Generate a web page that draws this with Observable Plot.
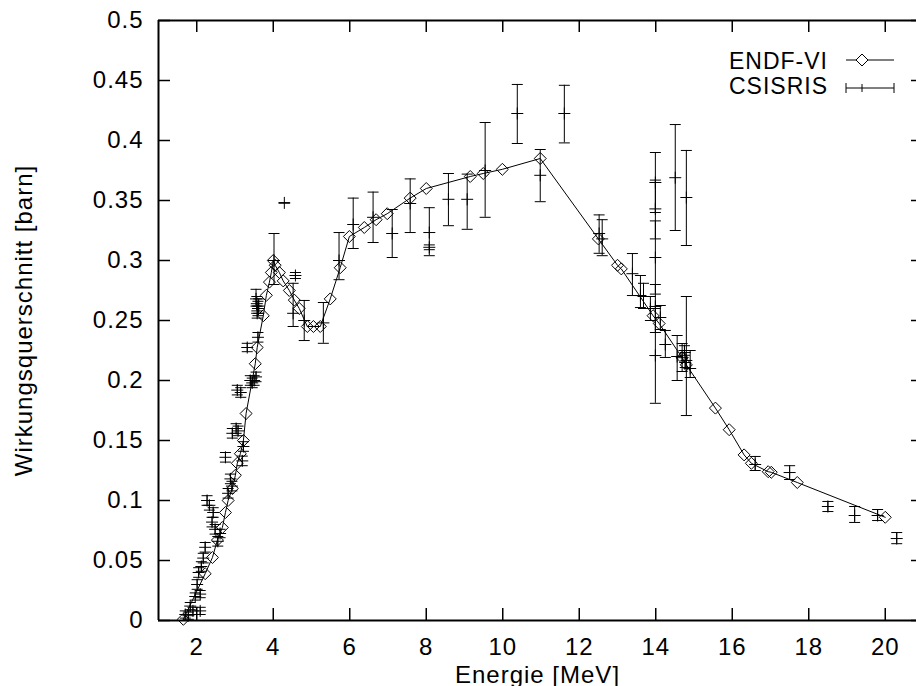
<!DOCTYPE html>
<html>
<head>
<meta charset="utf-8">
<script src="https://cdn.jsdelivr.net/npm/d3@7"></script>
<script src="https://cdn.jsdelivr.net/npm/@observablehq/plot@0.6"></script>
<style>
  html, body { margin: 0; padding: 0; background: white; }
  #chart svg text { letter-spacing: 1px; }
</style>
</head>
<body>
<div id="chart"></div>
<script>
// ENDF-VI evaluated cross section (energy MeV, barn)
const endfE = [1.65, 2.22, 2.41, 2.54, 2.67, 2.75, 2.82, 2.93, 3.01, 3.06, 3.14, 3.22, 3.29, 3.53, 3.58, 3.74, 3.82, 3.90, 3.95, 4.00, 4.05, 4.16, 4.26, 4.42, 4.55, 4.68, 4.89, 5.05, 5.23, 5.49, 5.75, 5.99, 6.38, 6.69, 6.98, 7.58, 8.00, 9.15, 9.49, 9.99, 10.98, 12.50, 13.00, 13.10, 13.93, 14.09, 14.69, 14.80, 15.56, 15.92, 16.31, 16.50, 16.94, 17.02, 17.70, 20.00];
const endfV = [0.001, 0.039, 0.0525, 0.067, 0.0775, 0.090, 0.100, 0.110, 0.121, 0.131, 0.139, 0.150, 0.1725, 0.214, 0.2275, 0.254, 0.271, 0.282, 0.290, 0.300, 0.296, 0.290, 0.283, 0.275, 0.267, 0.260, 0.245, 0.245, 0.245, 0.268, 0.294, 0.320, 0.3275, 0.334, 0.339, 0.352, 0.360, 0.370, 0.3725, 0.376, 0.385, 0.318, 0.296, 0.293, 0.254, 0.2475, 0.219, 0.213, 0.177, 0.159, 0.138, 0.131, 0.124, 0.1235, 0.115, 0.086];

// CSISRIS measurements: energy, value, lower and upper error limits
const csE  = [1.70, 1.78, 1.83, 1.90, 1.96, 2.01, 2.09, 2.09, 2.05, 2.12, 2.17, 2.22, 2.27, 2.33, 2.43, 2.40, 2.48, 2.61, 2.55, 2.75, 2.82, 2.88, 2.92, 2.93, 3.03, 3.08, 3.19, 3.22, 3.06, 3.15, 3.40, 3.45, 3.50, 3.55, 3.32, 3.60, 3.55, 3.57, 3.60, 3.58, 3.62, 4.02, 4.29, 4.58, 4.52, 4.81, 5.31, 5.72, 6.09, 6.61, 7.11, 7.58, 8.08, 8.08, 8.58, 9.07, 9.54, 10.38, 10.98, 11.61, 12.52, 12.60, 13.39, 13.60, 13.68, 13.86, 13.99, 13.99, 13.99, 13.99, 13.99, 14.12, 14.25, 14.51, 14.56, 14.69, 14.77, 14.90, 14.80, 14.80, 14.75, 16.60, 17.50, 18.50, 19.20, 19.80, 20.30];
const csV  = [0.005, 0.004, 0.012, 0.008, 0.020, 0.030, 0.022, 0.008, 0.040, 0.045, 0.052, 0.061, 0.100, 0.096, 0.090, 0.082, 0.076, 0.0725, 0.066, 0.136, 0.106, 0.118, 0.112, 0.156, 0.160, 0.158, 0.133, 0.145, 0.192, 0.190, 0.200, 0.198, 0.200, 0.203, 0.2275, 0.236, 0.268, 0.264, 0.260, 0.256, 0.262, 0.300, 0.348, 0.2875, 0.256, 0.250, 0.248, 0.300, 0.330, 0.336, 0.3225, 0.3475, 0.3233, 0.311, 0.351, 0.351, 0.375, 0.4225, 0.371, 0.4225, 0.3225, 0.318, 0.289, 0.2708, 0.270, 0.260, 0.365, 0.343, 0.3025, 0.2617, 0.2208, 0.2525, 0.230, 0.369, 0.220, 0.219, 0.215, 0.210, 0.3525, 0.2167, 0.225, 0.130, 0.1233, 0.095, 0.0875, 0.0875, 0.0683];
const csLo = [0.002, 0.001, 0.009, 0.005, 0.017, 0.026, 0.019, 0.005, 0.036, 0.041, 0.048, 0.057, 0.096, 0.092, 0.086, 0.078, 0.072, 0.069, 0.062, 0.132, 0.102, 0.114, 0.108, 0.152, 0.156, 0.154, 0.129, 0.141, 0.188, 0.186, 0.196, 0.194, 0.196, 0.199, 0.224, 0.232, 0.262, 0.258, 0.254, 0.252, 0.256, 0.280, 0.348, 0.285, 0.245, 0.2333, 0.231, 0.284, 0.310, 0.315, 0.3025, 0.3233, 0.304, 0.309, 0.329, 0.326, 0.336, 0.3975, 0.349, 0.398, 0.306, 0.304, 0.2708, 0.2608, 0.260, 0.250, 0.340, 0.318, 0.272, 0.240, 0.181, 0.2425, 0.2192, 0.325, 0.200, 0.2075, 0.2108, 0.2025, 0.3125, 0.1708, 0.221, 0.125, 0.1175, 0.0908, 0.0817, 0.0833, 0.064];
const csHi = [0.008, 0.007, 0.015, 0.011, 0.023, 0.034, 0.025, 0.011, 0.044, 0.049, 0.056, 0.065, 0.104, 0.100, 0.094, 0.086, 0.080, 0.076, 0.070, 0.140, 0.110, 0.122, 0.116, 0.160, 0.164, 0.162, 0.137, 0.149, 0.196, 0.194, 0.204, 0.202, 0.204, 0.207, 0.231, 0.240, 0.276, 0.270, 0.266, 0.262, 0.268, 0.3225, 0.348, 0.290, 0.281, 0.2667, 0.265, 0.3233, 0.352, 0.357, 0.3425, 0.368, 0.344, 0.313, 0.3725, 0.372, 0.415, 0.4467, 0.3925, 0.446, 0.338, 0.334, 0.3058, 0.2875, 0.281, 0.270, 0.390, 0.367, 0.333, 0.280, 0.260, 0.2625, 0.2417, 0.4133, 0.2375, 0.2308, 0.2233, 0.225, 0.3917, 0.270, 0.229, 0.1367, 0.129, 0.0992, 0.095, 0.0925, 0.0733];

const xTicks = [2, 4, 6, 8, 10, 12, 14, 16, 18, 20];
const yTicks = [0, 0.05, 0.1, 0.15, 0.2, 0.25, 0.3, 0.35, 0.4, 0.45, 0.5];
const xDomain = [1, 21];
const yDomain = [0, 0.5];
const xLabel = "Energie [MeV]";
const yLabel = "Wirkungsquerschnitt [barn]";
const seriesNames = ["ENDF-VI", "CSISRIS"];

const endf = endfE.map((e, i) => ({e, v: endfV[i]}));
const cs = csE.map((e, i) => ({e, v: csV[i], lo: csLo[i], hi: csHi[i]}));

// thin line symbols (gnuplot style)
const plusSym = {draw(ctx, size) { const r = Math.sqrt(size / Math.PI); ctx.moveTo(-r, 0); ctx.lineTo(r, 0); ctx.moveTo(0, -r); ctx.lineTo(0, r); }};
const capSym = {draw(ctx, size) { const r = Math.sqrt(size / Math.PI); ctx.moveTo(-r, 0); ctx.lineTo(r, 0); }};

const W = 916, H = 686, mL = 158, mT = 20, mB = 66;
const tick = 12;
const frameW = W - mL, frameH = H - mT - mB;

const chart = Plot.plot({
  width: W, height: H,
  marginLeft: mL, marginRight: 0, marginTop: mT, marginBottom: mB,
  x: {domain: xDomain, range: [mL, 923]},
  y: {domain: yDomain, range: [H - mB, mT]},
  style: {fontFamily: "'Liberation Sans', Arial, sans-serif", fontSize: "24px", background: "white", color: "black"},
  marks: [
    // border (left, bottom, top)
    Plot.ruleX([xDomain[0]], {stroke: "black", strokeWidth: 2}),
    Plot.ruleY([yDomain[0]], {stroke: "black", strokeWidth: 2}),
    Plot.ruleY([yDomain[1]], {stroke: "black", strokeWidth: 2}),
    // inward ticks on all sides
    Plot.ruleX(xTicks, {x: d => d, insetTop: frameH - tick, stroke: "black", strokeWidth: 1.5}),
    Plot.ruleX(xTicks, {x: d => d, insetBottom: frameH - tick, stroke: "black", strokeWidth: 1.5}),
    Plot.ruleY(yTicks, {y: d => d, insetRight: frameW - tick, stroke: "black", strokeWidth: 1.5}),
    Plot.ruleY(yTicks, {y: d => d, insetLeft: frameW - 5, stroke: "black", strokeWidth: 1.5}),
    // tick labels
    Plot.axisX({ticks: xTicks, tickSize: 0, tickPadding: 17, label: null, fontSize: 24}),
    Plot.axisY({ticks: yTicks, tickSize: 0, tickPadding: 15, label: null, fontSize: 24, tickFormat: d => String(+d.toFixed(2))}),
    // axis titles
    Plot.text([xLabel], {frameAnchor: "bottom", lineAnchor: "bottom", dy: 62, text: d => d, fontSize: 24}),
    Plot.text([yLabel], {frameAnchor: "left", textAnchor: "middle", lineAnchor: "bottom", rotate: -90, dx: -127, text: d => d, fontSize: 24}),
    // ENDF-VI
    Plot.line(endf, {x: "e", y: "v", stroke: "black", strokeWidth: 1}),
    Plot.dot(endf, {x: "e", y: "v", symbol: "diamond2", r: 5.4, fill: "none", stroke: "black", strokeWidth: 1}),
    // CSISRIS error bars
    Plot.ruleX(cs, {x: "e", y1: "lo", y2: "hi", stroke: "black", strokeWidth: 1}),
    Plot.dot(cs, {x: "e", y: "lo", symbol: capSym, r: 5.5, fill: "none", stroke: "black", strokeWidth: 1}),
    Plot.dot(cs, {x: "e", y: "hi", symbol: capSym, r: 5.5, fill: "none", stroke: "black", strokeWidth: 1}),
    Plot.dot(cs, {x: "e", y: "v", symbol: plusSym, r: 6, fill: "none", stroke: "black", strokeWidth: 1})
  ]
});
document.getElementById("chart").appendChild(chart);

// legend (top right, gnuplot style)
const svg = d3.select(chart);
const lg = svg.append("g").attr("font-family", "'Liberation Sans', Arial, sans-serif").attr("font-size", 23).attr("fill", "black");
lg.append("text").attr("x", 828).attr("y", 69).attr("text-anchor", "end").text(seriesNames[0]);
lg.append("text").attr("x", 828).attr("y", 94).attr("text-anchor", "end").text(seriesNames[1]);
lg.append("line").attr("x1", 846).attr("x2", 894).attr("y1", 60).attr("y2", 60).attr("stroke", "black");
lg.append("path").attr("d", d3.symbol(d3.symbolDiamond2, Math.pow(6 / 0.62625, 2))()).attr("transform", "translate(862,60)").attr("fill", "white").attr("stroke", "black");
lg.append("line").attr("x1", 846).attr("x2", 894).attr("y1", 88).attr("y2", 88).attr("stroke", "black");
lg.append("line").attr("x1", 846).attr("x2", 846).attr("y1", 83).attr("y2", 93).attr("stroke", "black");
lg.append("line").attr("x1", 894).attr("x2", 894).attr("y1", 83).attr("y2", 93).attr("stroke", "black");
lg.append("line").attr("x1", 862).attr("x2", 862).attr("y1", 84).attr("y2", 92).attr("stroke", "black");
</script>
</body>
</html>
